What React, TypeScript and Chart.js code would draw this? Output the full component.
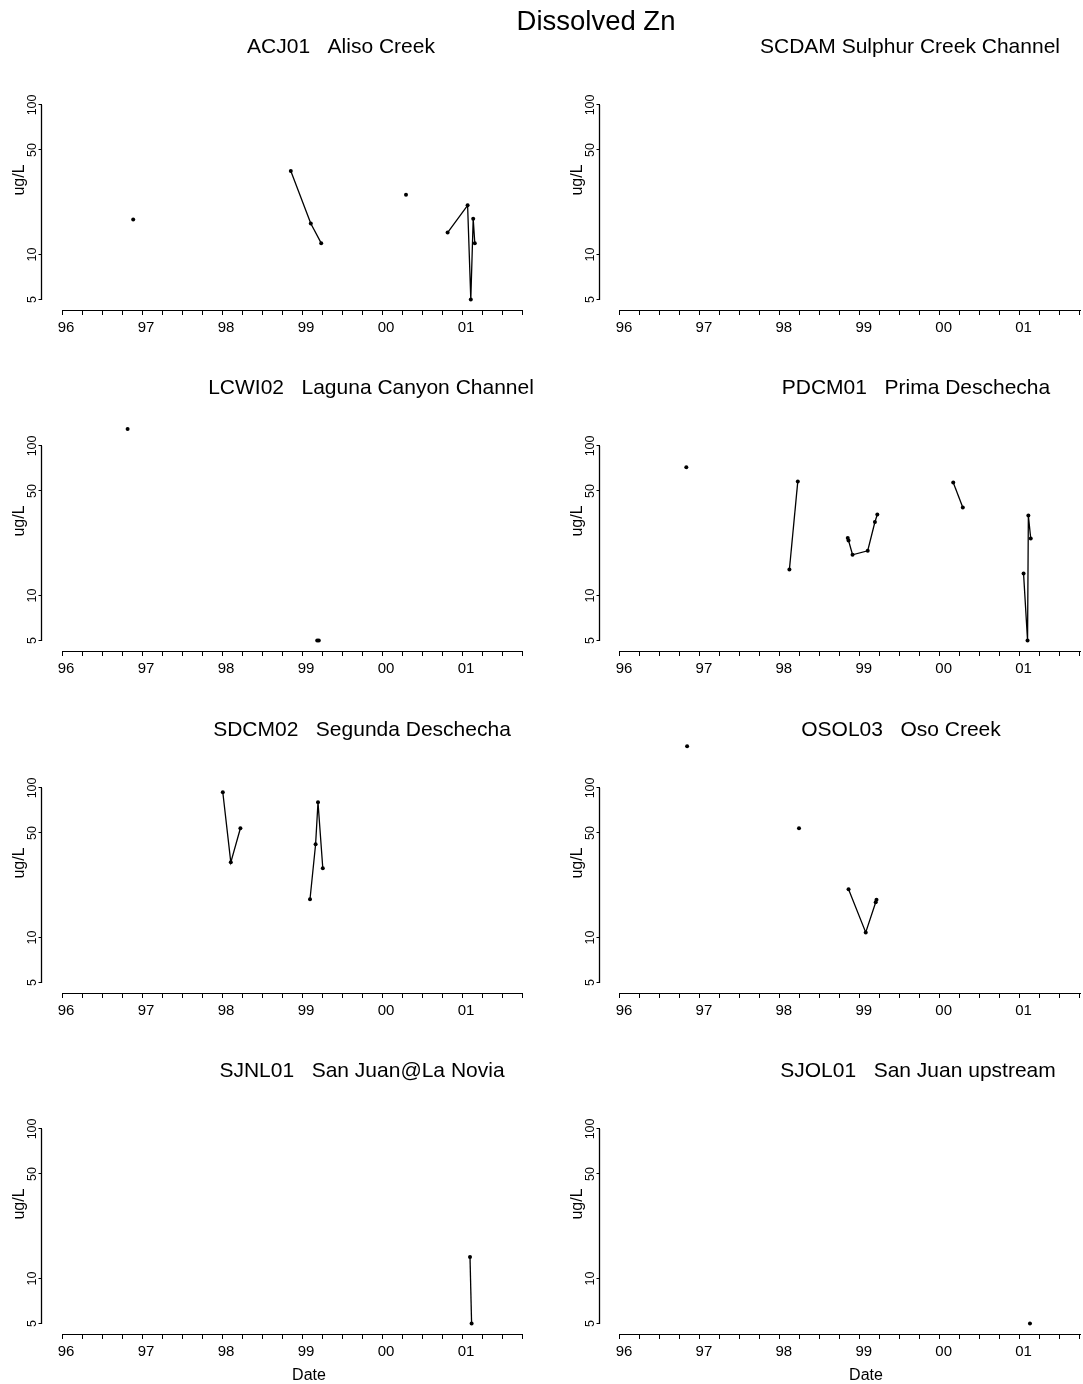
import React, { useEffect, useRef } from "react";
import { Chart, registerables } from "chart.js";

Chart.register(...registerables);

const FONT_FAMILY = "'Liberation Sans', Arial, Helvetica, sans-serif";

// ---------- axes ----------
// dates are decimal years counted from 1900 (100 = 2000)
const X_MIN = 95.75;
const X_MAX = 101.75;
const X_TICK_VALUES = [
  96, 96.25, 96.5, 96.75, 97, 97.25, 97.5, 97.75, 98, 98.25, 98.5, 98.75,
  99, 99.25, 99.5, 99.75, 100, 100.25, 100.5, 100.75, 101, 101.25, 101.5, 101.75,
];
const YEAR_TICKS = [96, 97, 98, 99, 100, 101];
const YEAR_LABELS = ["96", "97", "98", "99", "00", "01"];
const Y_MIN = 4.25;
const Y_MAX = 233;
const Y_TICKS = [5, 10, 50, 100];
const Y_TICK_LABELS = ["5", "10", "50", "100"];
const Y_TITLE = "ug/L";
const X_TITLE = "Date";
const MAIN_TITLE = "Dissolved Zn";
// wet season (water year) starts in October: lines join samples of one season
const SEASON_START = 0.75;

// ---------- data (dissolved Zn, ug/L) ----------
const ACJ01_DATES = [96.89, 98.86, 99.11, 99.24, 100.3, 100.82, 101.07, 101.11, 101.14, 101.16];
const ACJ01_ZN = [17.1, 36.2, 16.1, 11.9, 25.1, 14.0, 21.3, 5.0, 17.3, 11.9];

const SCDAM_DATES: number[] = [];
const SCDAM_ZN: number[] = [];

const LCWI02_DATES = [96.82, 99.19, 99.21];
const LCWI02_ZN = [130, 5.0, 5.0];

const PDCM01_DATES = [96.83, 98.12, 98.225, 98.85, 98.86, 98.91, 99.1, 99.19, 99.22, 100.17, 100.29, 101.05, 101.1, 101.11, 101.14];
const PDCM01_ZN = [72.0, 14.9, 57.9, 24.2, 23.3, 18.7, 19.9, 31.0, 34.8, 56.9, 38.7, 14.0, 5.0, 34.2, 24.0];

const SDCM02_DATES = [98.01, 98.11, 98.23, 99.1, 99.17, 99.2, 99.26];
const SDCM02_ZN = [93.6, 31.8, 53.7, 18.0, 42.0, 80.2, 29.0];

const OSOL03_DATES = [96.84, 98.24, 98.86, 99.075, 99.2, 99.21];
const OSOL03_ZN = [190, 53.7, 21.0, 10.8, 17.2, 17.9];

const SJNL01_DATES = [101.1, 101.12];
const SJNL01_ZN = [13.9, 5.0];

const SJOL01_DATES = [101.13];
const SJOL01_ZN = [5.0];

const STATION_TITLES = [
  "ACJ01   Aliso Creek",
  "SCDAM Sulphur Creek Channel",
  "LCWI02   Laguna Canyon Channel",
  "PDCM01   Prima Deschecha",
  "SDCM02   Segunda Deschecha",
  "OSOL03   Oso Creek",
  "SJNL01   San Juan@La Novia",
  "SJOL01   San Juan upstream",
];
const STATION_DATES = [ACJ01_DATES, SCDAM_DATES, LCWI02_DATES, PDCM01_DATES, SDCM02_DATES, OSOL03_DATES, SJNL01_DATES, SJOL01_DATES];
const STATION_ZN = [ACJ01_ZN, SCDAM_ZN, LCWI02_ZN, PDCM01_ZN, SDCM02_ZN, OSOL03_ZN, SJNL01_ZN, SJOL01_ZN];

// ---------- layout (pixels) ----------
const ROW_TOPS = [0, 341, 683, 1024];
const ROW_HEIGHTS = [341, 342, 341, 360];
const COLUMNS = [
  { left: 0, width: 541, areaLeft: 42, areaRight: 522, dateX: 309 },
  { left: 541, width: 542, areaLeft: 59, areaRight: 540, dateX: 325 },
];
const AREA_TOP = 50;
const AREA_BOTTOM = 310;
const TITLE_CENTER_X = [341, 369, 371, 375, 362, 360, 362, 377];
const TITLE_BASELINE = 53;
const DATE_BASELINE = 356;

const waterYear = (x: number) => Math.floor(x + 1 - SEASON_START);

const axisLinePlugin = {
  id: "axisLines",
  afterDraw(chart: any) {
    const { ctx, chartArea, scales } = chart;
    const xs = scales.x;
    const ys = scales.y;
    ctx.save();
    ctx.strokeStyle = "#000";
    ctx.lineCap = "butt";
    // x axis: from first to last tick, along the bottom of the plot area
    const yb = Math.round(chartArea.bottom) + 0.5;
    ctx.lineWidth = 1.1;
    ctx.beginPath();
    ctx.moveTo(Math.round(xs.getPixelForValue(X_TICK_VALUES[0])), yb);
    ctx.lineTo(Math.round(xs.getPixelForValue(X_TICK_VALUES[X_TICK_VALUES.length - 1])) + 1, yb);
    ctx.stroke();
    // y axis: from lowest to highest tick, along the left of the plot area
    const xl = Math.round(chartArea.left) - 0.5;
    ctx.lineWidth = 1.3;
    ctx.beginPath();
    ctx.moveTo(xl, Math.round(ys.getPixelForValue(Y_TICKS[Y_TICKS.length - 1])));
    ctx.lineTo(xl, Math.round(ys.getPixelForValue(Y_TICKS[0])) + 1);
    ctx.stroke();
    ctx.restore();
  },
};

function Panel({ index }: { index: number }) {
  const ref = useRef<HTMLCanvasElement | null>(null);
  const col = index % 2;
  const row = Math.floor(index / 2);
  const geom = COLUMNS[col];
  const height = ROW_HEIGHTS[row];
  const showDate = row === ROW_TOPS.length - 1;

  useEffect(() => {
    const dates = STATION_DATES[index];
    const values = STATION_ZN[index];
    const texts: { text: string; x: number; y: number; size: number }[] = [
      { text: STATION_TITLES[index], x: TITLE_CENTER_X[index], y: TITLE_BASELINE, size: 21 },
    ];
    if (showDate) texts.push({ text: X_TITLE, x: geom.dateX, y: DATE_BASELINE, size: 16 });

    const textPlugin = {
      id: "panelText",
      afterDraw(chart: any) {
        const ctx = chart.ctx;
        texts.forEach((t) => {
          ctx.save();
          ctx.font = `${t.size}px ${FONT_FAMILY}`;
          ctx.fillStyle = "#000";
          ctx.textAlign = "center";
          ctx.textBaseline = "alphabetic";
          ctx.fillText(t.text, t.x, t.y);
          ctx.restore();
        });
      },
    };

    const chart = new Chart(ref.current as HTMLCanvasElement, {
      type: "line",
      data: {
        datasets: [
          {
            data: dates.map((d, i) => ({ x: d, y: values[i] })),
            borderColor: "#000",
            backgroundColor: "#000",
            borderWidth: 1.3,
            pointRadius: 2,
            pointHoverRadius: 2,
            pointBorderWidth: 0,
            pointBackgroundColor: "#000",
            tension: 0,
            fill: false,
            spanGaps: false,
            segment: {
              borderColor: (c: any) =>
                waterYear(c.p0.parsed.x) === waterYear(c.p1.parsed.x) ? "#000" : "rgba(0,0,0,0)",
            },
          } as any,
        ],
      },
      options: {
        responsive: false,
        animation: false,
        devicePixelRatio: 1,
        events: [],
        layout: {
          padding: { left: 0, right: geom.width - geom.areaRight, top: AREA_TOP, bottom: 0 },
        },
        plugins: {
          legend: { display: false },
          tooltip: { enabled: false },
          title: { display: false },
        },
        scales: {
          x: {
            type: "linear",
            position: "bottom",
            min: X_MIN,
            max: X_MAX,
            afterBuildTicks: (s: any) => {
              s.ticks = X_TICK_VALUES.map((v) => ({ value: v }));
            },
            afterFit: (s: any) => {
              s.height = height - AREA_BOTTOM;
            },
            ticks: {
              autoSkip: false,
              maxRotation: 0,
              minRotation: 0,
              padding: 3.5,
              labelOffset: 4,
              color: "#000",
              font: { family: FONT_FAMILY, size: 15, lineHeight: 1.2 },
              callback: (v: any) => {
                const i = YEAR_TICKS.indexOf(Number(v));
                return i >= 0 ? YEAR_LABELS[i] : "";
              },
            },
            grid: {
              display: true,
              drawOnChartArea: false,
              drawTicks: true,
              tickLength: 5,
              color: "#000",
              lineWidth: 1,
            },
            border: { display: false },
          },
          y: {
            type: "logarithmic",
            position: "left",
            min: Y_MIN,
            max: Y_MAX,
            afterBuildTicks: (s: any) => {
              s.ticks = Y_TICKS.map((v) => ({ value: v }));
            },
            afterFit: (s: any) => {
              s.width = geom.areaLeft;
            },
            ticks: {
              minRotation: 90,
              maxRotation: 90,
              crossAlign: "center",
              padding: -4.7,
              color: "#000",
              font: { family: FONT_FAMILY, size: 12.5, lineHeight: 1.2 },
              callback: (v: any) => {
                const i = Y_TICKS.indexOf(Number(v));
                return i >= 0 ? Y_TICK_LABELS[i] : "";
              },
            },
            grid: {
              display: true,
              drawOnChartArea: false,
              drawTicks: true,
              tickLength: 3.5,
              color: "#000",
              lineWidth: 1,
            },
            border: { display: false },
            title: {
              display: true,
              text: Y_TITLE,
              color: "#000",
              font: { family: FONT_FAMILY, size: 16, lineHeight: 1.2 },
              padding: { top: geom.areaLeft - 22 - 9.6, bottom: 0 },
            },
          },
        },
      } as any,
      plugins: [axisLinePlugin, textPlugin],
    });
    return () => chart.destroy();
  }, []);

  return (
    <canvas
      ref={ref}
      width={geom.width}
      height={height}
      style={{
        position: "absolute",
        left: geom.left,
        top: ROW_TOPS[row],
        width: geom.width,
        height,
        display: "block",
      }}
    />
  );
}

export default function App() {
  return (
    <div
      style={{
        position: "absolute",
        left: 0,
        top: 0,
        width: 1083,
        height: 1384,
        background: "#fff",
        overflow: "hidden",
      }}
    >
      {STATION_TITLES.map((_, i) => (
        <Panel key={i} index={i} />
      ))}
      <div
        style={{
          position: "absolute",
          left: 446,
          top: 7,
          width: 300,
          textAlign: "center",
          fontFamily: FONT_FAMILY,
          fontSize: 27.5,
          lineHeight: "27px",
          color: "#000",
          zIndex: 2,
        }}
      >
        {MAIN_TITLE}
      </div>
    </div>
  );
}
